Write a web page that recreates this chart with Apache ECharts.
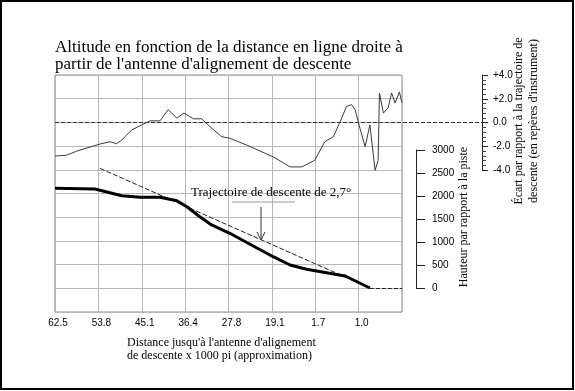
<!DOCTYPE html>
<html>
<head>
<meta charset="utf-8">
<script src="https://cdn.jsdelivr.net/npm/echarts@6/dist/echarts.min.js"></script>
<style>html,body{margin:0;padding:0;background:#fff}#c{width:575px;height:391px}</style>
</head>
<body>
<div id="c"></div>
<script>
// ---- data ----
var xTickLabels = ['62.5', '53.8', '45.1', '36.4', '27.8', '19.1', '1.7', '1.0', ''];
var heightTicks = [0, 500, 1000, 1500, 2000, 2500, 3000];
var deviationTicks = ['-4.0', '-2.0', '0.0', '+2.0', '+4.0'];
// x positions in units of grid columns (0 = 62.5 ... 7 = 1.0)
var devX = [0, 0.27, 0.50, 1.04, 1.27, 1.42, 1.54, 1.77, 1.96, 2.19, 2.42, 2.61, 2.81, 2.97, 3.19, 3.38, 3.57, 3.84, 4.03, 4.42, 5.03, 5.42, 5.69, 5.99, 6.22, 6.42, 6.61, 6.72, 6.84, 6.92, 7.03, 7.15, 7.26, 7.38, 7.45, 7.48, 7.57, 7.68, 7.76, 7.84, 7.94, 8.0];
var devY = [-2.83, -2.75, -2.41, -1.81, -1.62, -1.79, -1.47, -0.62, -0.28, 0.14, 0.14, 1.08, 0.37, 0.79, 0.31, 0.31, -0.34, -1.19, -1.33, -1.90, -2.89, -3.74, -3.74, -3.18, -1.62, -1.19, 0.37, 1.36, 1.50, 1.08, -0.48, -2.04, -0.20, -4.03, -3.18, 2.49, 0.79, 1.22, 2.49, 1.64, 2.58, 1.64];
var heightX = [0, 0.92, 1.54, 1.96, 2.42, 2.81, 3.04, 3.34, 3.61, 4.03, 4.57, 5.03, 5.42, 5.80, 6.26, 6.69, 7.26];
var heightY = [2167, 2152, 2007, 1972, 1972, 1898, 1767, 1550, 1370, 1189, 913, 680, 500, 407, 333, 261, 0];
var glideX = [1.04, 7.26];
var glideY = [2600, 0];
var runwayEndX = [7.26, 8];

function zip(a, b) { return a.map(function (v, i) { return [v, b[i]]; }); }

var SERIF = '"Liberation Serif", "DejaVu Serif", serif';
var SANS = '"Liberation Sans", Arial, sans-serif';
var chart = echarts.init(document.getElementById('c'), null, {renderer: 'canvas'});

var PL = 55, PW = 347, PT = 75, PH = 237;
var devRight = 482;
var devXMax = 8 * (devRight - PL) / PW;

var option = {
  animation: false,
  backgroundColor: '#fff',
  grid: [
    {left: PL, top: PT, width: PW, height: PH, show: true, borderColor: '#8a8a8a', borderWidth: 1},
    {left: PL, top: 75, width: devRight - PL, height: 95},
    {left: PL, top: 150, width: PW, height: 138}
  ],
  xAxis: [
    {gridIndex: 0, type: 'value', min: 0, max: 8, interval: 1,
      axisLine: {show: false}, axisTick: {show: false},
      splitLine: {show: true, lineStyle: {color: '#b8b8b8', width: 1}},
      axisLabel: {show: true, margin: 6, color: '#000', fontFamily: SANS, fontSize: 10,
        padding: [0, 0, 0, 6],
        formatter: function (v) { return xTickLabels[Math.round(v)] || ''; }}},
    {gridIndex: 1, type: 'value', min: 0, max: devXMax, show: false},
    {gridIndex: 2, type: 'value', min: 0, max: 8, show: false}
  ],
  yAxis: [
    {gridIndex: 0, type: 'value', min: 0, max: 10, interval: 1, position: 'left',
      axisLine: {show: false}, axisTick: {show: false}, axisLabel: {show: false},
      splitLine: {show: true, lineStyle: {color: '#b8b8b8', width: 1}}},
    {gridIndex: 1, type: 'value', min: -4, max: 4, interval: 2, position: 'right',
      axisLine: {show: true, onZero: false, lineStyle: {color: '#222', width: 1}},
      axisTick: {show: true, length: 6, lineStyle: {color: '#222'}},
      minorTick: {show: true, splitNumber: 5, length: 4, lineStyle: {color: '#444'}},
      splitLine: {show: false},
      axisLabel: {show: true, margin: 11, color: '#000', fontFamily: SANS, fontSize: 10,
        formatter: function (v) { return deviationTicks[Math.round((v + 4) / 2)]; }}},
    {gridIndex: 2, type: 'value', min: heightTicks[0], max: heightTicks[heightTicks.length - 1], interval: 500,
      position: 'right', offset: 14,
      axisLine: {show: true, onZero: false, lineStyle: {color: '#222', width: 1}},
      axisTick: {show: true, length: 9, lineStyle: {color: '#222'}},
      splitLine: {show: false},
      axisLabel: {show: true, margin: 16, color: '#000', fontFamily: SANS, fontSize: 10,
        formatter: function (v) { return String(v); }}}
  ],
  series: [
    {type: 'line', name: 'ecart', xAxisIndex: 1, yAxisIndex: 1, data: zip(devX, devY),
      showSymbol: false, symbol: 'none', clip: false,
      lineStyle: {color: '#3a3a3a', width: 1},
      markLine: {silent: true, symbol: 'none', label: {show: false},
        lineStyle: {color: '#333', type: [4, 2], width: 1},
        data: [{yAxis: 0}]}},
    {type: 'line', name: 'glide', xAxisIndex: 2, yAxisIndex: 2, data: zip(glideX, glideY),
      showSymbol: false, symbol: 'none',
      lineStyle: {color: '#222', width: 1, type: [5, 2]}},
    {type: 'line', name: 'hauteur', xAxisIndex: 2, yAxisIndex: 2, data: zip(heightX, heightY),
      showSymbol: false, symbol: 'none',
      lineStyle: {color: '#000', width: 3},
      markLine: {silent: true, symbol: 'none', label: {show: false},
        lineStyle: {color: '#222', type: [4, 2], width: 1},
        data: [[{coord: [runwayEndX[0], 0]}, {coord: [runwayEndX[1], 0]}]]}}
  ],
  graphic: [
    {type: 'rect', z: 100, shape: {x: 1, y: 1, width: 572, height: 388}, style: {fill: 'none', stroke: '#000', lineWidth: 2}, silent: true},
    {type: 'text', z: 100, left: 55, top: 39, style: {text: "Altitude en fonction de la distance en ligne droite à", font: '17px ' + SERIF, fill: '#000'}},
    {type: 'text', z: 100, left: 55, top: 56, style: {text: "partir de l'antenne d'alignement de descente", font: '17px ' + SERIF, fill: '#000'}},
    {type: 'text', z: 100, left: 127, top: 336, style: {text: "Distance jusqu'à l'antenne d'alignement\nde descente x 1000 pi (approximation)", font: '12px ' + SERIF, fill: '#000', lineHeight: 13}},
    {type: 'text', z: 100, x: 464, y: 217, rotation: Math.PI / 2,
      style: {text: 'Hauteur par rapport à la piste', font: '12px ' + SERIF, fill: '#000', textAlign: 'center', textVerticalAlign: 'middle'}},
    {type: 'text', z: 100, x: 526, y: 121, rotation: Math.PI / 2,
      style: {text: "Écart par rapport à la trajectoire de\ndescente (en repères d'instrument)", font: '12px ' + SERIF, fill: '#000', textAlign: 'center', textVerticalAlign: 'middle', lineHeight: 15}},
    {type: 'text', z: 100, x: 191, y: 193, style: {text: 'Trajectoire de descente de 2,7°', font: '13px ' + SERIF, fill: '#000', textVerticalAlign: 'middle'}},
    {type: 'line', z: 100, shape: {x1: 232, y1: 202, x2: 295, y2: 202}, style: {stroke: '#999', lineWidth: 1}},
    {type: 'line', z: 100, shape: {x1: 261, y1: 207, x2: 261, y2: 240}, style: {stroke: '#333', lineWidth: 1}},
    {type: 'polyline', z: 100, shape: {points: [[257, 232], [261, 240], [265, 232]]}, style: {stroke: '#333', lineWidth: 1, fill: 'none'}}
  ]
};
chart.setOption(option);
</script>
</body>
</html>
